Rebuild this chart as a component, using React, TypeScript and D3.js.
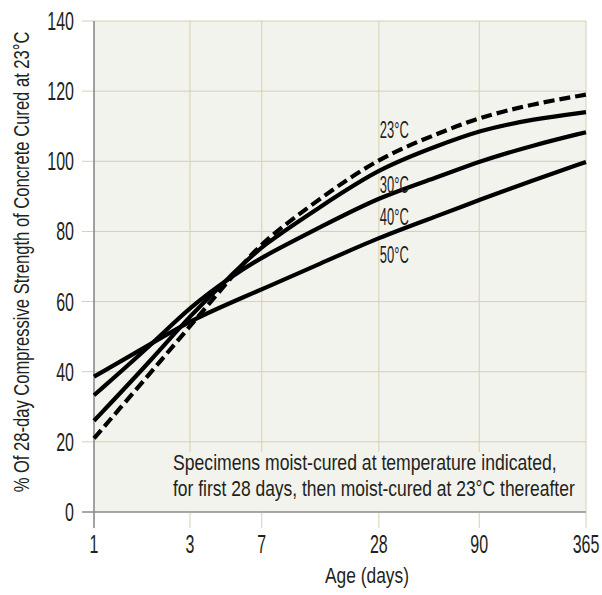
import * as d3 from "d3";
import { useLayoutEffect, useRef, useState } from "react";

// ages in days at which the curves were read
const ageDays = [1, 2, 3, 5, 7, 14, 28, 56, 90, 180, 365];
const ageTicks = [1, 3, 7, 28, 90, 365];
const strengthTicks = [0, 20, 40, 60, 80, 100, 120, 140];

// % of 28-day compressive strength of concrete cured at 23C
const cured23 = [21, 41, 53, 67.5, 77, 89.5, 101, 108, 112.5, 116.3, 119];
const cured30 = [26, 44.3, 56, 68, 76, 87, 98, 104.5, 108.8, 112, 114];
const cured40 = [33.3, 48.5, 58.5, 67.5, 72.7, 81.2, 89.8, 95.5, 100, 104.5, 108.3];
const cured50 = [38.6, 48.5, 54.5, 60, 63.5, 70.8, 78.3, 84.5, 89, 94.5, 99.8];

const seriesNames = ["23°C", "30°C", "40°C", "50°C"];
const seriesValues = [cured23, cured30, cured40, cured50];

const W = 602;
const H = 595;
const margin = { top: 21, right: 16, bottom: 83, left: 94 };
const plotW = W - margin.left - margin.right;
const plotH = H - margin.top - margin.bottom;

const FONT = "'Liberation Sans Narrow', 'Liberation Sans', sans-serif";
const INK = "#231f20";
const BG = "#f3f3ee";
const GRID = "#d5d0b2";
const AXIS = "#8a8a8a";

// the age axis is log-like but not evenly spaced: pin each tick
const tickFrac = [0, 0.195, 0.341, 0.579, 0.783, 1];
const x = d3.scaleLog().domain(ageTicks).range(tickFrac.map(f => f * plotW));
const y = d3.scaleLinear().domain([0, 140]).range([plotH, 0]);

const line = d3.line<number>()
  .x((_, i) => x(ageDays[i]))
  .y(d => y(d))
  .curve(d3.curveBasis);

// squeeze a text horizontally so it spans `w` pixels (the original uses a condensed face)
function Fit({ x, y, w, size, rotate = 0, anchor = "start", children }) {
  const ref = useRef<SVGTextElement>(null);
  useLayoutEffect(() => {
    const el = ref.current;
    if (!el) return;
    const n = el.getComputedTextLength() || w;
    el.setAttribute("transform", `translate(${x},${y}) rotate(${rotate}) scale(${w / n},1)`);
  }, [x, y, w, rotate]);
  return (
    <text ref={ref} transform={`translate(${x},${y}) rotate(${rotate})`} textAnchor={anchor}
      fontSize={size} fill={INK}>{children}</text>
  );
}

export default function App() {
  const probe = useRef<SVGTextElement>(null);
  const [k, setK] = useState<number | null>(null);
  useLayoutEffect(() => {
    if (probe.current) {
      const n = probe.current.getComputedTextLength();
      setK(n ? 89 / n : 0.79); // ten digits ~ 8.9px each in the reference
    }
  }, []);
  const sx = k ?? 0.79;

  return (
    <svg width={W} height={H} style={{ position: "absolute", left: 0, top: 0, background: "#fff" }}
      fontFamily={FONT}>
      {k === null && <text ref={probe} x={100} y={100} fontSize={25} opacity={0}>0123456789</text>}
      <g transform={`translate(${margin.left},${margin.top})`}>
        <rect x={0} y={0} width={plotW} height={plotH} fill={BG} />

        {/* grid */}
        {strengthTicks.map(t => (
          <line key={"gy" + t} x1={-12} x2={plotW} y1={y(t)} y2={y(t)}
            stroke={t === 0 ? AXIS : GRID} strokeWidth={1} />
        ))}
        {ageTicks.map(t => (
          <line key={"gx" + t} x1={x(t)} x2={x(t)} y1={0} y2={plotH + 16}
            stroke={t === 1 ? AXIS : GRID} strokeWidth={1} />
        ))}

        {/* note box hides the grid behind it */}
        <rect x={72} y={431} width={414} height={59} fill={BG} />
        <Fit x={79} y={449} w={384} size={23}>Specimens moist-cured at temperature indicated,</Fit>
        <Fit x={79} y={475} w={402} size={23}>for first 28 days, then moist-cured at 23°C thereafter</Fit>

        {/* axis lines */}
        <line x1={0} x2={0} y1={0} y2={plotH + 16} stroke={AXIS} strokeWidth={1.2} />
        <line x1={-12} x2={plotW} y1={plotH} y2={plotH} stroke={AXIS} strokeWidth={1.2} />

        {/* curves */}
        {seriesValues.map((vals, i) => (
          <path key={seriesNames[i]} d={line(vals) || ""} fill="none" stroke="#000"
            strokeWidth={4.2} strokeDasharray={i === 0 ? "11 5" : undefined} />
        ))}

        {/* curve labels */}
        {seriesNames.map((n, i) => (
          <Fit key={"l" + n} x={x(28) + 1} y={[117, 172, 204, 242][i]} w={29} size={24}>{n}</Fit>
        ))}

        {/* y tick labels */}
        {strengthTicks.map(t => (
          <text key={"ty" + t} transform={`translate(-20,${y(t) + 9}) scale(${sx},1)`}
            textAnchor="end" fontSize={25} fill={INK}>{t}</text>
        ))}
        {/* x tick labels */}
        {ageTicks.map(t => (
          <text key={"tx" + t} transform={`translate(${x(t)},${plotH + 41}) scale(${sx},1)`}
            textAnchor="middle" fontSize={25} fill={INK}>{t}</text>
        ))}

        <Fit x={231} y={plotH + 71} w={84} size={22}>Age (days)</Fit>
      </g>

      <Fit x={29} y={262} w={461} size={22} rotate={-90} anchor="middle">
        % Of 28-day Compressive Strength of Concrete Cured at 23°C
      </Fit>
    </svg>
  );
}
